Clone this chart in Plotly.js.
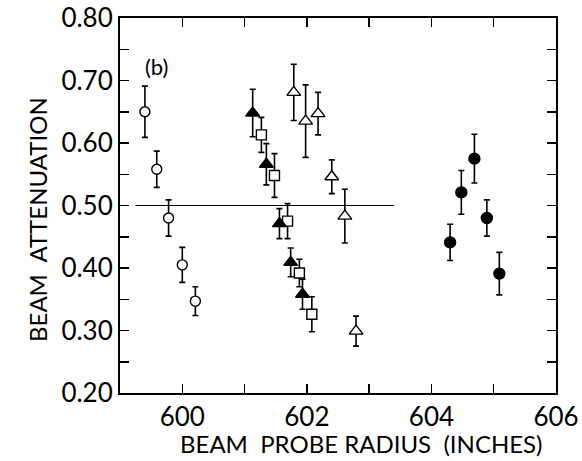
<!DOCTYPE html>
<html><head><meta charset="utf-8">
<script src="https://cdn.plot.ly/plotly-3.0.1.min.js"></script>
<style>html,body{margin:0;padding:0;background:#fff}#chart{width:582px;height:461px}</style>
</head><body><div id="chart"></div>
<script>
// Open circles
const openCircleX = [599.40, 599.59, 599.78, 600.00, 600.21];
const openCircleY = [0.650, 0.558, 0.480, 0.405, 0.347];
const openCircleErr = [0.041, 0.029, 0.029, 0.028, 0.023];
// Filled triangles
const filledTriX = [601.13, 601.35, 601.56, 601.74, 601.93];
const filledTriY = [0.648, 0.566, 0.471, 0.409, 0.358];
const filledTriErr = [0.038, 0.033, 0.024, 0.023, 0.024];
// Open squares
const openSqX = [601.27, 601.48, 601.69, 601.88, 602.08];
const openSqY = [0.613, 0.548, 0.475, 0.392, 0.326];
const openSqErr = [0.028, 0.035, 0.028, 0.022, 0.028];
// Open triangles
const openTriX = [601.79, 601.98, 602.18, 602.40, 602.61, 602.79];
const openTriY = [0.681, 0.635, 0.647, 0.546, 0.483, 0.299];
const openTriErr = [0.045, 0.058, 0.034, 0.027, 0.043, 0.024];
// Filled circles
const filledCircleX = [604.30, 604.48, 604.69, 604.89, 605.09];
const filledCircleY = [0.441, 0.521, 0.575, 0.480, 0.391];
const filledCircleErr = [0.029, 0.035, 0.039, 0.029, 0.034];
// Reference line
const refLineX = [599.25, 603.40];
const refLineY = [0.50, 0.50];

const xTickVals = [600, 602, 604, 606];
const xTickText = ['600', '602', '604', '606'];
const yTickVals = [0.2, 0.3, 0.4, 0.5, 0.6, 0.7, 0.8];
const yTickText = ['0.20', '0.30', '0.40', '0.50', '0.60', '0.70', '0.80'];
const xTitle = 'BEAM  PROBE RADIUS  (INCHES)';
const yTitle = 'BEAM  ATTENUATION';
const panelLabel = '(b)';

const FONT = 'Lato, "DejaVu Sans", sans-serif';
function err(a){return {type:'data', array:a, visible:true, color:'#000', thickness:1.6, width:3};}
function series(x,y,e,symbol,fill,size){
  return {x:x,y:y,type:'scatter',mode:'markers',error_y:err(e),
    marker:{symbol:symbol,size:size,color:fill,line:{color:'#000',width:1.4}},
    cliponaxis:false,showlegend:false,hoverinfo:'skip'};
}
const traces = [
  {x:refLineX,y:refLineY,type:'scatter',mode:'lines',line:{color:'#000',width:1},showlegend:false,hoverinfo:'skip'},
  series(openCircleX,openCircleY,openCircleErr,'circle','#fff',10),
  series(openSqX,openSqY,openSqErr,'square','#fff',10),
  series(filledTriX,filledTriY,filledTriErr,'triangle-up','#000',12),
  series(openTriX,openTriY,openTriErr,'triangle-up','#fff',12),
  series(filledCircleX,filledCircleY,filledCircleErr,'circle','#000',11)
];
const axisCommon = {showgrid:false, zeroline:false, showline:true, linecolor:'#000', linewidth:2,
  mirror:'ticks', ticks:'inside', ticklen:9, tickwidth:1.5, tickcolor:'#000',
  tickfont:{family:FONT,size:26,color:'#000'}};
const layout = {
  width:582, height:461,
  margin:{l:120, r:26, t:18, b:68},
  paper_bgcolor:'#fff', plot_bgcolor:'#fff',
  xaxis:Object.assign({}, axisCommon, {range:[599,606], tickvals:xTickVals, ticktext:xTickText,
    minor:{dtick:1, tick0:599, ticks:'inside', ticklen:9, tickwidth:1.5, tickcolor:'#000'}}),
  yaxis:Object.assign({}, axisCommon, {range:[0.2,0.8], tickvals:yTickVals, ticktext:yTickText,
    minor:{dtick:0.05, tick0:0.2, ticks:'inside', ticklen:9, tickwidth:1.5, tickcolor:'#000'}}),
  annotations:[
    {x:599.58, y:0.723, xref:'x', yref:'y', text:panelLabel, showarrow:false,
      font:{family:FONT,size:22,color:'#000'}},
    {x:0, y:0, xref:'paper', yref:'paper', text:xTitle, showarrow:false,
      xanchor:'center', yanchor:'middle', font:{family:FONT,size:24,color:'#000'}},
    {x:0, y:0, xref:'paper', yref:'paper', text:yTitle, showarrow:false, textangle:-90,
      xanchor:'center', yanchor:'middle', font:{family:FONT,size:24,color:'#000'}}
  ]
};
// place titles in paper fractions of the plot area (120..556 x, 18..393 y)
layout.annotations[1].x = (361-120)/(582-146); layout.annotations[1].y = -(443-393)/375;
layout.annotations[2].x = (38-120)/(582-146); layout.annotations[2].y = (393-220)/375;
Plotly.newPlot('chart', traces, layout, {staticPlot:true, displayModeBar:false});
</script></body></html>
